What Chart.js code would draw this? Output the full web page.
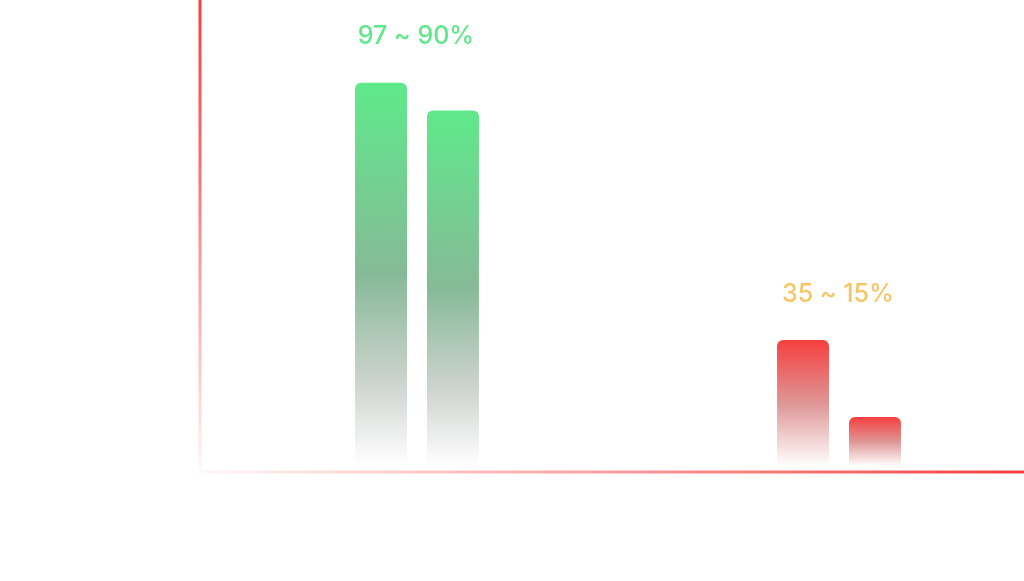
<!DOCTYPE html>
<html>
<head>
<meta charset="utf-8">
<script src="https://cdn.jsdelivr.net/npm/chart.js@4.4.1/dist/chart.umd.min.js"></script>
<style>
  html, body { margin: 0; padding: 0; background: #fff; overflow: hidden; }
  #wrap { position: relative; width: 1050px; height: 581px; }
</style>
</head>
<body>
<div id="wrap"><canvas id="chart"></canvas></div>
<script>
// data
const categories = ['High', 'Low'];
const firstBar = [97, 31.9];
const secondBar = [90, 12.4];
const groupLabels = ['97 ~ 90%', '35 ~ 15%'];
const labelColors = ['#5ee88a', '#f7c566'];

// gradient per bar, from its own top down to zero
function barFill(stops) {
  return ctx => {
    const chart = ctx.chart;
    const y = chart.scales.y;
    if (!chart.chartArea || !y) return stops[0][1];
    const top = y.getPixelForValue(ctx.raw);
    const bottom = y.getPixelForValue(0);
    const g = chart.ctx.createLinearGradient(0, top, 0, bottom);
    stops.forEach(s => g.addColorStop(s[0], s[1]));
    return g;
  };
}
const greenStops = [[0, '#5fe98a'], [0.5, '#86ba97'], [0.78, '#cdd3ce'], [1, '#ffffff']];
const redStops = [[0, '#f5403f'], [0.5, '#df9595'], [1, '#ffffff']];
function colorFor(ctx) {
  return ctx.dataIndex === 0 ? barFill(greenStops)(ctx) : barFill(redStops)(ctx);
}

// axis lines with fading ends
const axisLines = {
  id: 'axisLines',
  beforeDatasetsDraw(chart) {
    const c = chart.ctx;
    const x0 = 200, yLine = 472;
    c.save();
    c.lineWidth = 3;
    let g = c.createLinearGradient(0, 0, 0, yLine);
    g.addColorStop(0, 'rgba(244,64,64,1)');
    g.addColorStop(0.35, 'rgba(244,64,64,0.75)');
    g.addColorStop(1, 'rgba(244,64,64,0.04)');
    c.strokeStyle = g;
    c.beginPath(); c.moveTo(x0, 0); c.lineTo(x0, yLine - 2); c.stroke();
    g = c.createLinearGradient(x0, 0, 1024, 0);
    g.addColorStop(0, 'rgba(244,64,64,0.03)');
    g.addColorStop(1, 'rgba(244,64,64,1)');
    c.strokeStyle = g;
    c.beginPath(); c.moveTo(x0, yLine); c.lineTo(1050, yLine); c.stroke();
    c.restore();
  }
};

// range labels above each group
const rangeLabels = {
  id: 'rangeLabels',
  afterDatasetsDraw(chart) {
    const c = chart.ctx;
    const xs = chart.scales.x, ys = chart.scales.y;
    c.save();
    c.font = '500 25px Inter, "Liberation Sans", sans-serif';
    c.textAlign = 'center';
    c.textBaseline = 'middle';
    categories.forEach((cat, i) => {
      const top = ys.getPixelForValue(Math.max(firstBar[i], secondBar[i]));
      c.fillStyle = labelColors[i];
      c.fillText(groupLabels[i], xs.getPixelForValue(i) - 1, top - 46);
    });
    c.restore();
  }
};

new Chart(document.getElementById('chart'), {
  type: 'bar',
  data: {
    labels: categories,
    datasets: [
      { data: firstBar, backgroundColor: colorFor, borderRadius: 6, borderSkipped: 'bottom' },
      { data: secondBar, backgroundColor: colorFor, borderRadius: 6, borderSkipped: 'bottom' }
    ]
  },
  options: {
    responsive: true,
    maintainAspectRatio: false,
    animation: false,
    categoryPercentage: 0.341,
    barPercentage: 0.722,
    layout: { padding: { left: 206, right: 0, top: 71, bottom: 115 } },
    scales: {
      x: { display: false },
      y: { display: false, min: 0, max: 100 }
    },
    plugins: { legend: { display: false }, tooltip: { enabled: false } }
  },
  plugins: [axisLines, rangeLabels]
});
</script>
</body>
</html>
